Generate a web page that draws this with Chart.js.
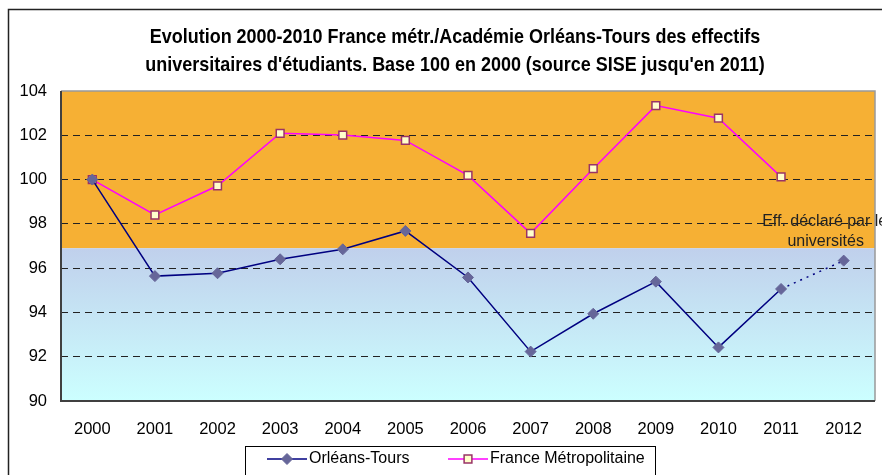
<!DOCTYPE html>
<html>
<head>
<meta charset="utf-8">
<script src="https://cdn.jsdelivr.net/npm/chart.js@4.4.1/dist/chart.umd.min.js"></script>
<style>
  html, body { margin: 0; padding: 0; background: #fff; }
  #wrap { width: 882px; height: 475px; }
</style>
</head>
<body>
<div id="wrap"><canvas id="evoChart" width="882" height="475"></canvas></div>
<script>
const years = ['2000', '2001', '2002', '2003', '2004', '2005', '2006', '2007', '2008', '2009', '2010', '2011', '2012'];
const orleansTours = [100, 95.64, 95.77, 96.4, 96.85, 97.68, 95.58, 92.23, 93.94, 95.39, 92.42, 95.06, 96.34];
const franceMetro = [100, 98.4, 99.72, 102.09, 102.01, 101.77, 100.19, 97.57, 100.49, 103.34, 102.77, 100.12, null];
const yMin = 90, yMax = 104, yStep = 2;
const bandLimit = 96.9;
const titleLines = [
  "Evolution 2000-2010 France métr./Académie Orléans-Tours des effectifs",
  "universitaires d'étudiants. Base 100 en 2000 (source SISE jusqu'en 2011)"
];
const noteLines = ['Eff. déclaré par les', 'universités'];

const FONT = "'Liberation Sans', Arial, sans-serif";

// fond orange / dégradé bleu + cadre extérieur + titre (police étroite simulée)
const backgroundPlugin = {
  id: 'bgBands',
  beforeDraw(chart) {
    const { ctx, chartArea: a, scales: { y } } = chart;
    ctx.save();
    ctx.strokeStyle = '#222';
    ctx.lineWidth = 1.5;
    ctx.strokeRect(8.5, 9.5, 1000, 1000);

    const yb = y.getPixelForValue(bandLimit);
    ctx.fillStyle = '#F6B034';
    ctx.fillRect(a.left, a.top, a.right - a.left, yb - a.top);
    const g = ctx.createLinearGradient(0, yb, 0, a.bottom);
    g.addColorStop(0, '#C0D0EC');
    g.addColorStop(1, '#CCFFFF');
    ctx.fillStyle = g;
    ctx.fillRect(a.left, yb, a.right - a.left, a.bottom - yb);

    ctx.fillStyle = '#000';
    ctx.font = 'bold 21px ' + FONT;
    ctx.textAlign = 'center';
    ctx.textBaseline = 'alphabetic';
    ctx.translate(455, 0);
    ctx.scale(0.855, 1);
    ctx.fillText(titleLines[0], 0, 43);
    ctx.fillText(titleLines[1], 0, 71);
    ctx.restore();
  },
  beforeDatasetsDraw(chart) {
    const { ctx, chartArea: a } = chart;
    ctx.save();
    ctx.strokeStyle = '#999';
    ctx.lineWidth = 1.5;
    ctx.beginPath();
    ctx.moveTo(a.left, a.top);
    ctx.lineTo(a.right, a.top);
    ctx.lineTo(a.right, a.bottom);
    ctx.stroke();
    ctx.strokeStyle = '#404040';
    ctx.lineWidth = 2;
    ctx.beginPath();
    ctx.moveTo(a.left, a.top);
    ctx.lineTo(a.left, a.bottom);
    ctx.lineTo(a.right, a.bottom);
    ctx.stroke();
    ctx.restore();
  }
};

// note + légende encadrée
const extrasPlugin = {
  id: 'extras',
  afterDraw(chart) {
    const { ctx, scales: { x, y } } = chart;
    ctx.save();
    ctx.font = '16px ' + FONT;
    ctx.fillStyle = '#222';
    ctx.textAlign = 'center';
    ctx.textBaseline = 'middle';
    const nx = x.getPixelForValue(12) - 18;
    const ny = y.getPixelForValue(orleansTours[12]);
    ctx.fillText(noteLines[0], nx + 3, ny - 39);
    ctx.fillText(noteLines[1], nx, ny - 19);

    // légende
    const bx = 245, by = 446, bw = 410, bh = 30;
    ctx.fillStyle = '#fff';
    ctx.fillRect(bx, by, bw, bh);
    ctx.strokeStyle = '#000';
    ctx.lineWidth = 1;
    ctx.strokeRect(bx + 0.5, by + 0.5, bw, bh);
    const ly = by + 13;
    const items = [
      { ds: chart.data.datasets[0], x0: 267 },
      { ds: chart.data.datasets[1], x0: 448 }
    ];
    items.forEach(it => {
      ctx.strokeStyle = it.ds.borderColor;
      ctx.lineWidth = 1.5;
      ctx.beginPath();
      ctx.moveTo(it.x0, ly);
      ctx.lineTo(it.x0 + 40, ly);
      ctx.stroke();
      ctx.fillStyle = it.ds.pointBackgroundColor;
      ctx.strokeStyle = it.ds.pointBorderColor;
      ctx.lineWidth = it.ds.pointBorderWidth;
      Chart.helpers.drawPoint(ctx, {
        pointStyle: it.ds.pointStyle, rotation: 0,
        radius: it.ds.pointRadius, borderWidth: it.ds.pointBorderWidth
      }, it.x0 + 20, ly);
      ctx.fillStyle = '#000';
      ctx.textAlign = 'left';
      ctx.fillText(it.ds.label, it.x0 + 42, ly);
    });
    ctx.restore();
  }
};

new Chart(document.getElementById('evoChart'), {
  type: 'line',
  data: {
    labels: years,
    datasets: [
      {
        label: 'Orléans-Tours',
        data: orleansTours,
        borderColor: '#000080',
        borderWidth: 1.5,
        pointStyle: 'rectRot',
        pointRadius: 5.5,
        pointBackgroundColor: '#666699',
        pointBorderColor: '#666699',
        pointBorderWidth: 1,
        tension: 0,
        segment: {
          borderDash: ctx => ctx.p0DataIndex >= 11 ? [2, 5] : undefined
        }
      },
      {
        label: 'France Métropolitaine',
        data: franceMetro,
        borderColor: '#FF00FF',
        borderWidth: 1.5,
        pointStyle: 'rect',
        pointRadius: 5.5,
        pointBackgroundColor: '#FFFFCC',
        pointBorderColor: '#993366',
        pointBorderWidth: 1.5,
        tension: 0
      }
    ]
  },
  options: {
    responsive: false,
    animation: false,
    layout: { padding: { top: 91, left: 0, right: 1, bottom: 0 } },
    plugins: {
      legend: { display: false },
      tooltip: { enabled: false },
      title: { display: false }
    },
    scales: {
      x: {
        offset: true,
        grid: { display: false, offset: true },
        border: { display: false },
        ticks: { color: '#000', font: { family: FONT, size: 16.5 }, padding: 11, maxRotation: 0, autoSkip: false },
        afterFit: s => { s.height = 74; }
      },
      y: {
        min: yMin,
        max: yMax,
        grid: {
          drawTicks: false,
          lineWidth: 1,
          color: c => (c.tick.value === yMin || c.tick.value === yMax) ? 'rgba(0,0,0,0)' : '#222'
        },
        border: { display: false, dash: [7, 5] },
        ticks: { stepSize: yStep, color: '#000', font: { family: FONT, size: 16.5 }, padding: 14 },
        afterFit: s => { s.width = 61; }
      }
    }
  },
  plugins: [backgroundPlugin, extrasPlugin]
});
</script>
</body>
</html>
